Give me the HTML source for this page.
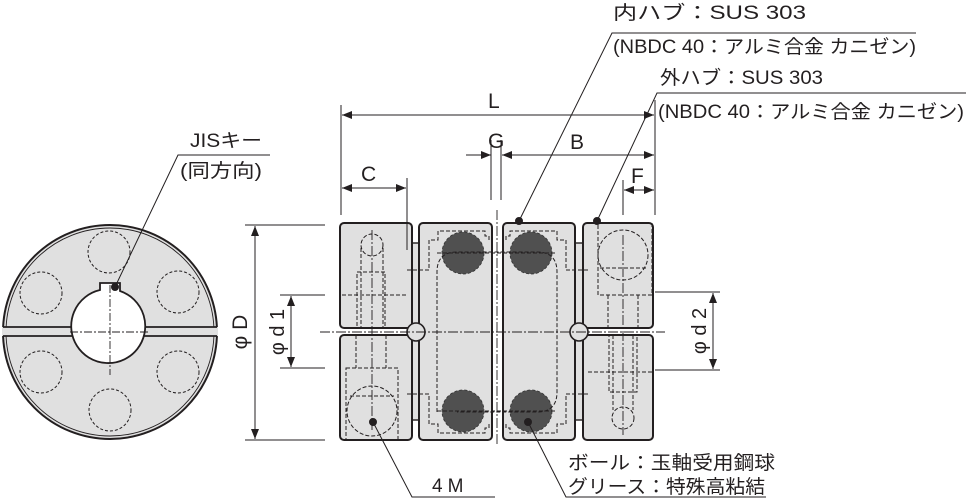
<!DOCTYPE html>
<html><head><meta charset="utf-8"><style>
html,body{margin:0;padding:0;background:#fff;}
svg{display:block;}
text{font-family:"Liberation Sans","Noto Sans CJK JP",sans-serif;fill:#231f20;}
</style></head><body>
<svg width="966" height="498" viewBox="0 0 966 498" xmlns="http://www.w3.org/2000/svg">
<defs>
<marker id="a" markerWidth="10" markerHeight="8" refX="10" refY="4" orient="auto-start-reverse" markerUnits="userSpaceOnUse"><path d="M0,0 L10,4 L0,8 Z" fill="#231f20"/></marker>
</defs>
<g stroke="#231f20" fill="none" stroke-width="1">
<circle cx="110" cy="332" r="107" fill="#e0e0e0" stroke-width="2"/>
<circle cx="110" cy="332" r="104" stroke-width="0.9"/>
<rect x="2" y="327" width="216" height="9" fill="#e0e0e0" stroke="none"/>
<line x1="3" y1="327" x2="217" y2="327" stroke-width="1.8"/>
<line x1="3" y1="336" x2="217" y2="336" stroke-width="1.8"/>
<path d="M100,290 L100,283 L120,283 L120,291 A37,37 0 1 1 100,290 Z" fill="#fff" stroke-width="1.8"/>
<g stroke-dasharray="3,2" stroke-width="1">
<circle cx="109" cy="252" r="21"/><circle cx="41" cy="293" r="21"/><circle cx="178" cy="292" r="21"/>
<circle cx="41" cy="372" r="21"/><circle cx="178" cy="372" r="21"/><circle cx="110" cy="410" r="21"/>
</g>
<g stroke-dasharray="8,2,2,2" stroke-width="0.9">
<line x1="70" y1="332" x2="150" y2="332"/><line x1="110" y1="285" x2="110" y2="375"/>
</g>
<polyline points="270,155 178,155 115,287" stroke-width="1"/>
<circle cx="115" cy="287" r="3.5" fill="#231f20"/>

<rect x="412" y="243" width="7" height="177" fill="#e0e0e0" stroke-width="1.4"/>
<rect x="575" y="243" width="8" height="177" fill="#e0e0e0" stroke-width="1.4"/>
<g fill="#e0e0e0" stroke-width="2">
<rect x="340" y="223" width="72" height="105" rx="4"/>
<rect x="340" y="335" width="72" height="105" rx="4"/>
<rect x="419" y="223" width="73" height="217" rx="4"/>
<rect x="503" y="223" width="72" height="217" rx="4"/>
<rect x="583" y="223" width="70" height="105" rx="4"/>
<rect x="583" y="335" width="70" height="105" rx="4"/>
</g>
<circle cx="416" cy="332" r="9" fill="#e0e0e0" stroke-width="1.6"/>
<circle cx="579" cy="332" r="9" fill="#e0e0e0" stroke-width="1.6"/>
<g fill="#505050" stroke="#333" stroke-dasharray="3,2" stroke-width="0.8">
<circle cx="463" cy="253" r="21"/><circle cx="531" cy="253" r="21"/>
<circle cx="463" cy="411" r="21"/><circle cx="531" cy="411" r="21"/>
</g>
<g stroke-dasharray="4,2" stroke-width="1">
<path d="M437,412 L437,272 Q437,252 457,252 L537,252 Q557,252 557,272 L557,392 Q557,412 537,412 L457,412"/>
<line x1="437" y1="253" x2="557" y2="253"/><line x1="437" y1="411" x2="557" y2="411"/>
<path d="M407,270 L429,270 L429,240 L438,240 L438,231 L485,231 L485,236 L489,236 L489,240"/>
<path d="M407,394 L429,394 L429,424 L438,424 L438,433 L485,433 L485,428 L489,428 L489,424"/>
<path d="M588,270 L566,270 L566,240 L557,240 L557,231 L510,231 L510,236 L506,236 L506,240"/>
<path d="M588,394 L566,394 L566,424 L557,424 L557,433 L510,433 L510,428 L506,428 L506,424"/>
<circle cx="372" cy="245" r="11"/>
<line x1="361" y1="248" x2="361" y2="328"/><line x1="383" y1="248" x2="383" y2="328"/>
<rect x="357" y="272" width="28" height="56"/>
<line x1="342" y1="295" x2="406" y2="295"/>
<line x1="356" y1="335" x2="356" y2="368"/><line x1="386" y1="335" x2="386" y2="368"/>
<rect x="346" y="368" width="52" height="72"/>
<circle cx="372" cy="411" r="25"/>
<line x1="350" y1="396" x2="394" y2="396"/>
<circle cx="623" cy="255" r="25"/>
<line x1="600" y1="268" x2="646" y2="268"/>
<rect x="598" y="223" width="54" height="72"/>
<line x1="608" y1="295" x2="608" y2="328"/><line x1="638" y1="295" x2="638" y2="328"/>
<rect x="609" y="335" width="28" height="57"/>
<line x1="613" y1="335" x2="613" y2="410"/><line x1="633" y1="335" x2="633" y2="410"/>
<line x1="588" y1="372" x2="652" y2="372"/>
<circle cx="623" cy="418" r="11"/>
</g>
<g stroke-dasharray="10,2,2,2" stroke-width="0.9">
<line x1="320" y1="332" x2="665" y2="332"/>
<line x1="372" y1="230" x2="372" y2="430"/>
<line x1="623" y1="235" x2="623" y2="435"/>
<line x1="497" y1="210" x2="497" y2="445"/>
</g>

<g stroke-width="1">
<line x1="341" y1="105" x2="341" y2="215"/>
<line x1="655" y1="100" x2="655" y2="215"/>
<line x1="342" y1="115" x2="654" y2="115" marker-start="url(#a)" marker-end="url(#a)"/>
<line x1="491" y1="140" x2="491" y2="200"/><line x1="501" y1="140" x2="501" y2="200"/>
<line x1="466" y1="155" x2="491" y2="155" marker-end="url(#a)"/>
<line x1="502" y1="155" x2="654" y2="155" marker-start="url(#a)" marker-end="url(#a)"/>
<line x1="407" y1="178" x2="407" y2="250"/>
<line x1="342" y1="188" x2="406" y2="188" marker-start="url(#a)" marker-end="url(#a)"/>
<line x1="623" y1="180" x2="623" y2="215"/>
<line x1="624" y1="190" x2="654" y2="190" marker-start="url(#a)" marker-end="url(#a)"/>
<line x1="245" y1="225" x2="325" y2="225"/><line x1="245" y1="440" x2="325" y2="440"/>
<line x1="255" y1="226" x2="255" y2="439" marker-start="url(#a)" marker-end="url(#a)"/>
<line x1="280" y1="295" x2="325" y2="295"/><line x1="280" y1="368" x2="325" y2="368"/>
<line x1="291" y1="296" x2="291" y2="367" marker-start="url(#a)" marker-end="url(#a)"/>
<line x1="655" y1="292" x2="720" y2="292"/><line x1="655" y1="370" x2="720" y2="370"/>
<line x1="713" y1="293" x2="713" y2="369" marker-start="url(#a)" marker-end="url(#a)"/>
<polyline points="916,33 612,33 519,221"/>
<polyline points="966,93 657,93 597,221"/>
<polyline points="373,422 412,497 495,497"/>
<polyline points="528,422 566,497 766,497"/>
</g>
<g fill="#231f20">
<circle cx="519" cy="221" r="3.5"/><circle cx="597" cy="221" r="3.5"/>
<circle cx="373" cy="422" r="3.5"/><circle cx="528" cy="422" r="3.5"/>
</g>
</g>
<g font-size="19">
<text x="613" y="19" textLength="193" lengthAdjust="spacingAndGlyphs">内ハブ：SUS 303</text>
<text x="613" y="53" textLength="303" lengthAdjust="spacingAndGlyphs">(NBDC 40：アルミ合金 カニゼン)</text>
<text x="660" y="84" textLength="163" lengthAdjust="spacingAndGlyphs">外ハブ：SUS 303</text>
<text x="658" y="118" textLength="306" lengthAdjust="spacingAndGlyphs">(NBDC 40：アルミ合金 カニゼン)</text>
<text x="488" y="108" font-size="21">L</text>
<text x="488" y="148" font-size="21">G</text>
<text x="570" y="149" font-size="21">B</text>
<text x="361" y="181" font-size="21">C</text>
<text x="631" y="183" font-size="21">F</text>
<text x="190" y="147" textLength="72" lengthAdjust="spacingAndGlyphs">JISキー</text>
<text x="180" y="177" textLength="82" lengthAdjust="spacingAndGlyphs">(同方向)</text>
<text x="432" y="492" letter-spacing="5">4M</text>
<text x="568" y="469" textLength="207" lengthAdjust="spacingAndGlyphs">ボール：玉軸受用鋼球</text>
<text x="568" y="493" textLength="197" lengthAdjust="spacingAndGlyphs">グリース：特殊高粘結</text>
<text transform="translate(247,332) rotate(-90)" text-anchor="middle" font-size="21">φ D</text>
<text transform="translate(284,332) rotate(-90)" text-anchor="middle" font-size="20">φ d 1</text>
<text transform="translate(706,331) rotate(-90)" text-anchor="middle" font-size="20">φ d 2</text>
</g>
</svg>
</body></html>
